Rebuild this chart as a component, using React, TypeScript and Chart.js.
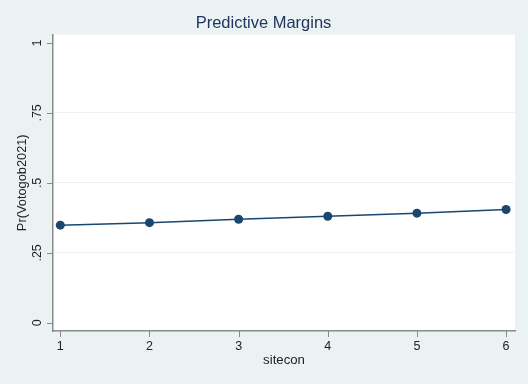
import React, { useEffect, useRef } from "react";
import { Chart, registerables } from "chart.js";

Chart.register(...registerables);

const sitecon = [1, 2, 3, 4, 5, 6];
const margins = [0.349, 0.358, 0.37, 0.381, 0.392, 0.405];
const yTickValues = [0, 0.25, 0.5, 0.75, 1];
const yTickLabels = ["0", ".25", ".5", ".75", "1"];
const xTickValues = [1, 2, 3, 4, 5, 6];
const titleText = "Predictive Margins";
const yTitleText = "Pr(Votogob2021)";
const xTitleText = "sitecon";

const FONT = "'Liberation Sans', Arial, Helvetica, sans-serif";
const BG = "#EAF2F3";
const NAVY = "#1A476F";
const AXIS = "#8a8a8a";

export default function App() {
  const ref = useRef<HTMLCanvasElement | null>(null);

  useEffect(() => {
    if (!ref.current) return;
    const bgPlugin = {
      id: "bgPlugin",
      beforeDraw(chart: any) {
        const { ctx, chartArea: a } = chart;
        ctx.save();
        ctx.fillStyle = BG;
        ctx.fillRect(0, 0, chart.width, chart.height);
        ctx.fillStyle = "#ffffff";
        ctx.fillRect(a.left, a.top, a.right - a.left, a.bottom - a.top);
        ctx.restore();
      },
    };
    const textPlugin = {
      id: "textPlugin",
      afterDraw(chart: any) {
        const { ctx, chartArea: a } = chart;
        const ys = chart.scales.y;
        const xs = chart.scales.x;
        ctx.save();
        // tick marks
        ctx.strokeStyle = AXIS;
        ctx.lineWidth = 1;
        yTickValues.forEach((v) => {
          const py = Math.round(ys.getPixelForValue(v)) + 0.5;
          ctx.beginPath();
          ctx.moveTo(a.left - 6, py);
          ctx.lineTo(a.left, py);
          ctx.stroke();
        });
        xTickValues.forEach((v) => {
          const px = Math.round(xs.getPixelForValue(v)) + 0.5;
          ctx.beginPath();
          ctx.moveTo(px, a.bottom);
          ctx.lineTo(px, a.bottom + 6);
          ctx.stroke();
        });
        // title
        ctx.fillStyle = "#22355E";
        ctx.font = `16.5px ${FONT}`;
        ctx.textAlign = "center";
        ctx.textBaseline = "middle";
        ctx.fillText(titleText, 263.5, 23);
        // y tick labels (rotated)
        ctx.fillStyle = "#222222";
        ctx.font = `12.5px ${FONT}`;
        yTickValues.forEach((v, i) => {
          const py = ys.getPixelForValue(v);
          ctx.save();
          ctx.translate(37.5, py);
          ctx.rotate(-Math.PI / 2);
          ctx.textAlign = "center";
          ctx.textBaseline = "middle";
          ctx.fillText(yTickLabels[i], 0, 0);
          ctx.restore();
        });
        // y title
        ctx.save();
        ctx.font = `12.8px ${FONT}`;
        ctx.translate(22, (a.top + a.bottom) / 2);
        ctx.rotate(-Math.PI / 2);
        ctx.textAlign = "center";
        ctx.textBaseline = "middle";
        ctx.fillText(yTitleText, 0, 0);
        ctx.restore();
        // x title
        ctx.font = `13.2px ${FONT}`;
        ctx.textAlign = "center";
        ctx.textBaseline = "middle";
        ctx.fillText(xTitleText, (a.left + a.right) / 2, 360);
        ctx.restore();
      },
    };

    const chart = new Chart(ref.current, {
      type: "line",
      data: {
        datasets: [
          {
            data: sitecon.map((x, i) => ({ x, y: margins[i] })),
            borderColor: NAVY,
            backgroundColor: NAVY,
            borderWidth: 1.5,
            pointRadius: 4.5,
            pointBackgroundColor: NAVY,
            pointBorderColor: NAVY,
            pointBorderWidth: 0,
            tension: 0,
          },
        ],
      },
      options: {
        animation: false,
        responsive: false,
        devicePixelRatio: 1,
        layout: { padding: { left: 0, top: 34.5, right: 13, bottom: 0 } },
        plugins: {
          legend: { display: false },
          tooltip: { enabled: false },
          title: { display: false },
        },
        scales: {
          x: {
            type: "linear",
            min: 0.918,
            max: 6.1,
            afterBuildTicks: (s: any) => {
              s.ticks = xTickValues.map((v) => ({ value: v }));
            },
            afterFit: (s: any) => {
              s.height = 53;
            },
            ticks: {
              font: { size: 12.5, family: FONT },
              color: "#222222",
              padding: 8,
              maxRotation: 0,
              callback: (v: any) => String(v),
            },
            grid: {
              drawOnChartArea: false,
              drawTicks: false,
            },
            border: { display: true, color: AXIS, width: 1.5 },
          },
          y: {
            type: "linear",
            min: -0.029,
            max: 1.03,
            afterBuildTicks: (s: any) => {
              s.ticks = yTickValues.map((v) => ({ value: v }));
            },
            afterFit: (s: any) => {
              s.width = 53;
            },
            ticks: { display: false },
            grid: {
              color: (c: any) =>
                c.tick && (c.tick.value === 0 || c.tick.value === 1) ? "rgba(0,0,0,0)" : BG,
              lineWidth: 1,
              drawTicks: false,
            },
            border: { display: true, color: AXIS, width: 1.5 },
          },
        },
      } as any,
      plugins: [bgPlugin, textPlugin],
    });
    return () => chart.destroy();
  }, []);

  return (
    <div style={{ position: "fixed", left: 0, top: 0, width: 528, height: 384 }}>
      <canvas ref={ref} width={528} height={384} style={{ display: "block" }} />
    </div>
  );
}
